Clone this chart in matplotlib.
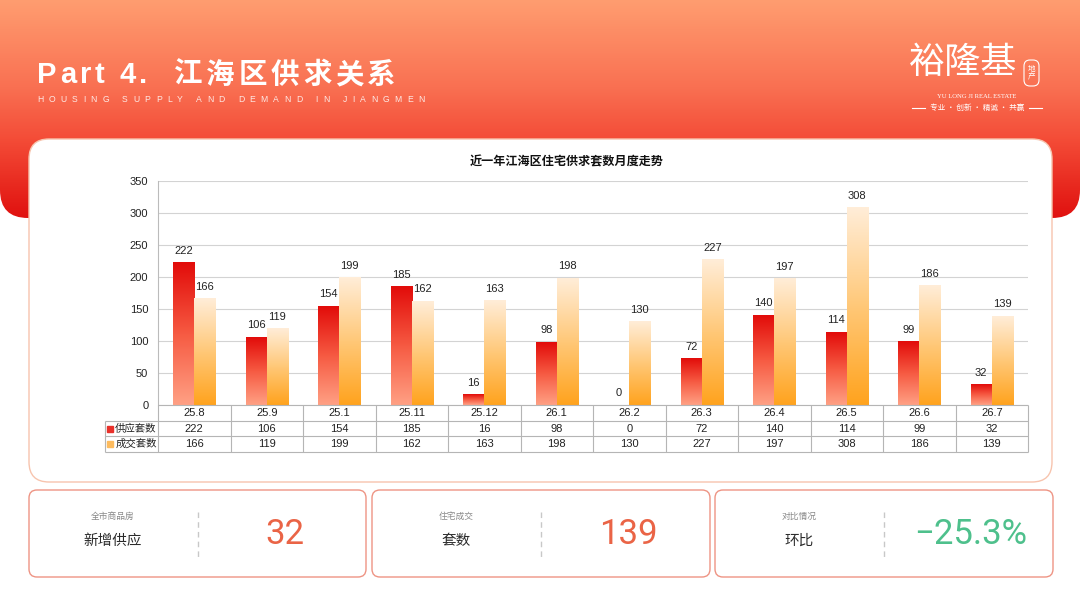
import matplotlib.pyplot as plt
import numpy as np
from matplotlib.colors import LinearSegmentedColormap
from matplotlib.patches import FancyBboxPatch

plt.rcParams['font.family'] = ['Liberation Sans', 'Noto Sans CJK SC', 'DejaVu Sans']

# chart data
months = ["25.8", "25.9", "25.1", "25.11", "25.12", "26.1",
          "26.2", "26.3", "26.4", "26.5", "26.6", "26.7"]
supply = [222, 106, 154, 185, 16, 98, 0, 72, 140, 114, 99, 32]
deals = [166, 119, 199, 162, 163, 198, 130, 227, 197, 308, 186, 139]
series_names = ["供应套数", "成交套数"]
chart_title = "近一年江海区住宅供求套数月度走势"
y_ticks = [0, 50, 100, 150, 200, 250, 300, 350]

# summary cards
card_small = ["全市商品房", "住宅成交", "对比情况"]
card_big = ["新增供应", "套数", "环比"]
card_values = ["32", "139", "\u221225.3%"]
card_colors = ["#EA6446", "#EA6446", "#4EC08C"]

W, H = 1080, 608
fig = plt.figure(figsize=(W / 100, H / 100), dpi=100)
bg = fig.add_axes([0, 0, 1, 1])
bg.axis('off')

# header band with gradient
head_cmap = LinearSegmentedColormap.from_list(
    'head', [(0, '#FF9D70'), (0.4, '#F97052'), (0.64, '#F44C37'), (1, '#E0110F')])
grad = np.linspace(0, 1, 256).reshape(-1, 1)
band = FancyBboxPatch((0, -60), W, 278, boxstyle='round,pad=0,rounding_size=28',
                      fc='none', ec='none', transform=bg.transData)
bg.add_patch(band)
im = bg.imshow(grad, extent=[0, W, 218, 0], cmap=head_cmap, aspect='auto', zorder=0)
im.set_clip_path(band)

# main white card
bg.add_patch(FancyBboxPatch((29, 139), 1023, 343, boxstyle='round,pad=0,rounding_size=20',
                            fc='white', ec='#F7C4AE', lw=1, zorder=2))
bg.set_xlim(0, W)
bg.set_ylim(H, 0)

renderer = fig.canvas.get_renderer()


def spaced_text(x, y, s, gap, space_w, **kw):
    for ch in s:
        if ch == ' ':
            x += space_w + gap
            continue
        t = bg.text(x, y, ch, ha='left', va='baseline', **kw)
        x += t.get_window_extent(renderer=renderer).width + gap
    return x


# page title
spaced_text(37, 83, "Part 4.", 3.5, 8, fontsize=21, fontweight='bold', color='white', zorder=5)
for i, ch in enumerate("江海区供求关系"):
    bg.text(174 + i * 32.2, 83, ch, ha='left', va='baseline', fontsize=20.5,
            fontweight='bold', color='white', zorder=5)
spaced_text(37, 102.5, "HOUSING SUPPLY AND DEMAND IN JIANGMEN", 5.3, 2.5,
            fontsize=6.2, color='white', alpha=0.85, zorder=5)

# logo
bg.text(963, 63, "裕隆基", ha='center', va='center', fontsize=26, color='white',
        family=['Noto Sans CJK SC'], zorder=5)
bg.add_patch(FancyBboxPatch((1024, 60), 15, 26, boxstyle='round,pad=0,rounding_size=6',
                            fc='none', ec='white', lw=0.8, zorder=5))
bg.text(1031.5, 73, "地\n产", ha='center', va='center', fontsize=5.5, color='white',
        linespacing=1.0, family=['Noto Sans CJK SC'], zorder=5)
bg.text(977, 96, "YU LONG JI REAL ESTATE", ha='center', va='center', fontsize=4.8,
        color='white', family=['Liberation Serif'], zorder=5)
bg.text(977, 108, "专业 · 创新 · 精诚 · 共赢", ha='center', va='center', fontsize=5.5,
        color='white', family=['Noto Sans CJK SC'], zorder=5)
bg.plot([912, 925], [108, 108], color='white', lw=0.8, zorder=5)
bg.plot([1029, 1042], [108, 108], color='white', lw=0.8, zorder=5)

# chart title
bg.text(567, 162, chart_title, ha='center', va='center', fontsize=8.7,
        fontweight='bold', color='#111111', zorder=5)

# bar chart
ax = fig.add_axes([158 / W, 1 - 405 / H, 870 / W, 224 / H])
ax.patch.set_alpha(0)
x = np.arange(len(months))
bw = 0.29
b1 = ax.bar(x - bw / 2, supply, bw, fc='none', ec='none', label=series_names[0])
b2 = ax.bar(x + bw / 2, deals, bw, fc='none', ec='none', label=series_names[1])

red_cmap = LinearSegmentedColormap.from_list('r', ['#FFA084', '#F65A42', '#E20C0A'])
org_cmap = LinearSegmentedColormap.from_list('o', ['#FFA31E', '#FFC878', '#FFEDD8'])
vgrad = np.linspace(0, 1, 128).reshape(-1, 1)
for bars, cmap in [(b1, red_cmap), (b2, org_cmap)]:
    for b in bars:
        h = b.get_height()
        if h <= 0:
            continue
        x0, w = b.get_x(), b.get_width()
        ax.imshow(vgrad, extent=[x0, x0 + w, 0, h], origin='lower', cmap=cmap,
                  aspect='auto', zorder=3)

ax.bar_label(b1, padding=5, fontsize=8, color='#222222')
ax.bar_label(b2, padding=5, fontsize=8, color='#222222')

ax.set_xlim(-0.5, len(months) - 0.5)
ax.set_ylim(0, 350)
ax.set_yticks(y_ticks)
ax.set_xticks([])
ax.grid(axis='y', color='#D3D3D3', lw=0.8)
ax.set_axisbelow(True)
ax.tick_params(axis='y', length=0, pad=7, labelsize=8, labelcolor='#222222')
for s in ['top', 'right', 'bottom']:
    ax.spines[s].set_visible(False)
ax.spines['left'].set_color('#BBBBBB')

# data table under the chart
tb = fig.add_axes([105 / W, 1 - 452 / H, 923 / W, 47 / H])
xmin = -0.5 - 53 / 72.5
xmax = len(months) - 0.5
tb.set_xlim(xmin, xmax)
tb.set_ylim(3, 0)
tb.axis('off')
lc = '#B5B5B5'
tb.hlines(0, -0.5, xmax, color=lc, lw=0.8, clip_on=False)
tb.hlines([1, 2, 3], xmin, xmax, color=lc, lw=0.8, clip_on=False)
tb.vlines(np.arange(len(months) + 1) - 0.5, 0, 3, color=lc, lw=0.8, clip_on=False)
tb.vlines(xmin, 1, 3, color=lc, lw=0.8, clip_on=False)
for i in range(len(months)):
    tb.text(i, 0.5, months[i], ha='center', va='center', fontsize=8, color='#222222')
    tb.text(i, 1.5, str(supply[i]), ha='center', va='center', fontsize=8, color='#222222')
    tb.text(i, 2.5, str(deals[i]), ha='center', va='center', fontsize=8, color='#222222')
for row, name, col in [(1.5, series_names[0], '#E8302A'), (2.5, series_names[1], '#FDBB5E')]:
    tb.plot(xmin + 0.07, row, marker='s', ms=4, color=col, clip_on=False)
    tb.text(xmin + 0.14, row, name, ha='left', va='center', fontsize=7.5, color='#222222')

# summary cards
card_x = [29, 372, 715]
card_w = [337, 338, 338]
for i in range(3):
    cx = card_x[i]
    bg.add_patch(FancyBboxPatch((cx, 490), card_w[i], 87, boxstyle='round,pad=0,rounding_size=8',
                                fc='white', ec='#EE9484', lw=1, zorder=2))
    bg.text(cx + 84, 516, card_small[i], ha='center', va='center', fontsize=6.3,
            color='#888888', zorder=5)
    bg.text(cx + 84, 541, card_big[i], ha='center', va='center', fontsize=10.5,
            color='#2B2B2B', zorder=5)
    bg.plot([cx + 169, cx + 169], [512, 558], ls=(0, (4, 3)), color='#C8C8C8', lw=1, zorder=5)
    bg.text(cx + 256, 535, card_values[i], ha='center', va='center', fontsize=25,
            color=card_colors[i], family=['Roboto', 'DejaVu Sans'], zorder=5)

fig.savefig('out.png', dpi=100)
